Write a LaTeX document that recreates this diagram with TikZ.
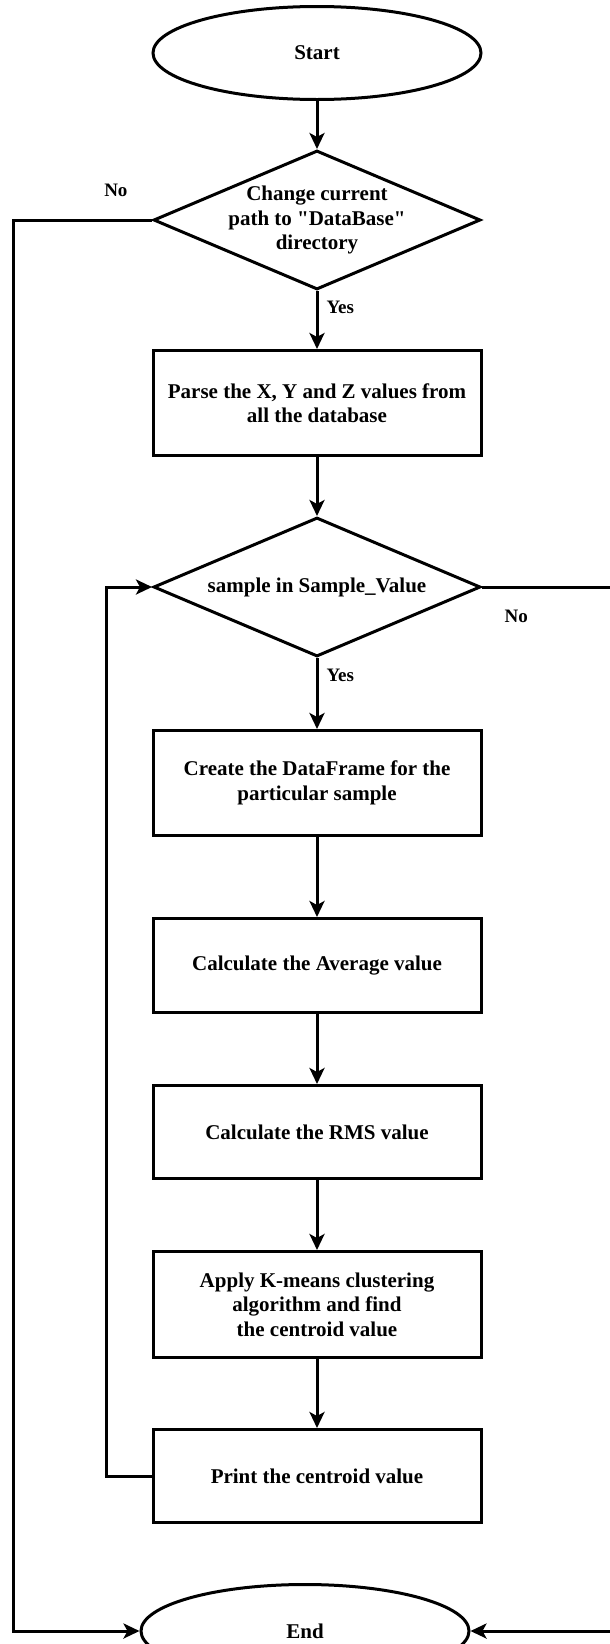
\documentclass[tikz,border=0pt]{standalone}
\usepackage{fontspec}
\setmainfont{Liberation Serif}[Ligatures=TeXOff]
\usepackage{tikz}
\usetikzlibrary{arrows.meta,positioning,shapes.geometric}
\tikzset{
  % Base styles
  chart base/.style={
    x=1pt, y=-1pt,
    >={Stealth[length=16pt,width=15pt,inset=4pt]},
    line width=3pt,
  },
  box text/.style={font=\fontsize{21}{24.5}\selectfont\bfseries, align=center},
  % Flowchart nodes
  term node/.style={ellipse, draw, box text, minimum width=328pt, minimum height=93pt, inner sep=0pt},
  proc node/.style={rectangle, draw, box text, minimum width=328pt, inner sep=0pt},
  cond node/.style={diamond, draw, box text, aspect=2.35, minimum width=327pt, minimum height=139pt,
    inner xsep=-30pt, inner ysep=0pt},
  % Edge labels
  flow label/.style={font=\fontsize{19}{22}\selectfont\bfseries, inner sep=0pt},
}

\begin{document}
\begin{tikzpicture}[chart base]
\useasboundingbox (0,0) rectangle (610,1644);

% Top node
\node[term node] (start) at (317,53) {Start};

% Main column
\node[cond node, below=48pt of start] (chk) {Change current\\path to "DataBase"\\directory};
\node[proc node, below=58pt of chk, minimum height=105pt] (parse) {Parse the X, Y and Z values from\\all the database};
\node[cond node, below=59pt of parse] (loop) {sample in Sample\_Value};
\node[proc node, below=71pt of loop, minimum height=105pt] (frame) {Create the DataFrame for the\\particular sample};
\node[proc node, below=80pt of frame, minimum height=94pt] (avg) {Calculate the Average value};
\node[proc node, below=70pt of avg, minimum height=93pt] (rms) {Calculate the RMS value};
\node[proc node, below=70pt of rms, minimum height=106pt] (kmeans) {Apply K-means clustering\\algorithm and find\\the centroid value};
\node[proc node, below=69pt of kmeans, minimum height=93pt] (print) {Print the centroid value};

% Bottom node
\node[term node, below=59pt of print, xshift=-12pt] (end) {End};

% Side rails
\coordinate (lft) at (13,0);
\coordinate (back) at (106,0);
\coordinate (rgt) at (625,0);

% Edges
\draw[->] (start) -- (chk);
\draw[->] (chk) -- node[flow label, right=8pt, pos=0.29] {Yes} (parse);
\draw[->] (parse) -- (loop);
\draw[->] (loop) -- node[flow label, right=8pt, pos=0.24] {Yes} (frame);
\draw[->] (frame) -- (avg);
\draw[->] (avg) -- (rms);
\draw[->] (rms) -- (kmeans);
\draw[->] (kmeans) -- (print);

% Loop back and exits
\draw[->] (print.west) -- (print.west -| back) |- (loop.west);
\draw[->] (chk.west) -- node[flow label, pos=0.26, yshift=30pt] {No} (chk.west -| lft) |- (end.west);
\draw[->] (loop.east) -- node[flow label, pos=0.24, yshift=-29pt] {No} (loop.east -| rgt) |- (end.east);
\end{tikzpicture}
\end{document}
